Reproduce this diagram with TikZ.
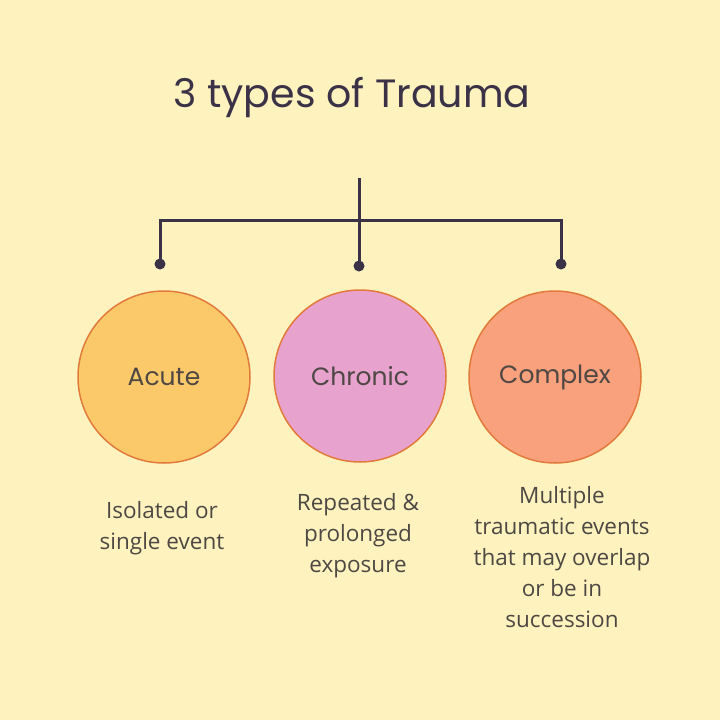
\documentclass[tikz,border=0pt]{standalone}
\usepackage{fontspec}
\setmainfont{Open Sans}
\newfontfamily\titlefont{Poppins}
\definecolor{bg}{HTML}{FEF3BF}
\definecolor{ink}{HTML}{3B3248}
\definecolor{txt}{HTML}{4E4744}
\definecolor{acutefill}{HTML}{FBC96A}
\definecolor{chronicfill}{HTML}{E8A2CE}
\definecolor{complexfill}{HTML}{F9A07D}
\definecolor{rim}{HTML}{E27A3C}
\begin{document}
\begin{tikzpicture}[x=1pt,y=-1pt,
  conn/.style={draw=ink,line width=3pt},
  dotnode/.style={circle,fill=ink,inner sep=0pt,minimum size=11pt},
  typecircle/.style={circle,draw=rim,line width=1.5pt,minimum size=172pt,inner sep=0pt,
     font=\titlefont\fontsize{25}{30}\selectfont,text=txt},
  desc/.style={align=center,font=\fontsize{22.5}{31}\selectfont,text=txt},
]
\fill[bg] (0,0) rectangle (720,720);
\useasboundingbox (0,0) rectangle (720,720);
\node[font=\titlefont\fontsize{39.5}{46}\selectfont,text=ink] (title) at (352,98) {3 types of Trauma};
\coordinate (top) at (359,178);
\coordinate (hub) at (359,220);
\coordinate (jl) at (160,220);
\coordinate (jr) at (561,220);
\node[dotnode] (dl) at (160,264) {};
\node[dotnode] (dm) at (359,266) {};
\node[dotnode] (dr) at (561,264) {};
\draw[conn] (top) -- (hub);
\draw[conn,line cap=rect] (jl) -- (jr);
\draw[conn] (jl) -- (dl.center);
\draw[conn] (hub) -- (dm.center);
\draw[conn] (jr) -- (dr.center);
\node[typecircle,fill=acutefill] (acute) at (164,377) {Acute};
\node[typecircle,fill=chronicfill] (chronic) at (360,376) {Chronic};
\node[typecircle,fill=complexfill] (complex) at (555,377) {Complex};
\node[desc] (d1) at (162,528) {Isolated or\\single event};
\node[desc] (d2) at (358,536) {Repeated \&\\prolonged\\exposure};
\node[desc] (d3) at (562,557) {Multiple\\traumatic events\\that may overlap\\or be in\\succession};
\end{tikzpicture}
\end{document}
